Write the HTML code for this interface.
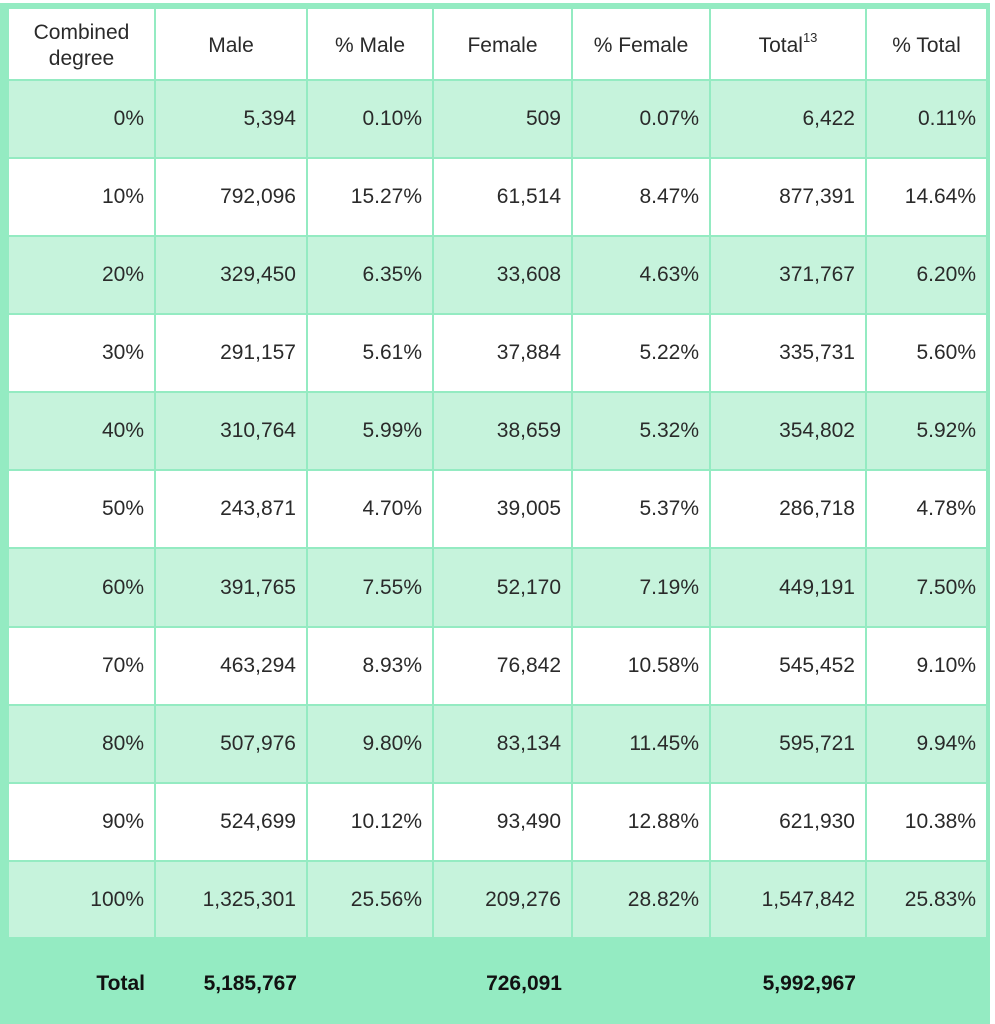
<!DOCTYPE html>
<html><head><meta charset="utf-8"><style>
body{margin:0;width:995px;height:1024px;background:#fff;position:relative;overflow:hidden;font-family:"Liberation Sans",sans-serif;color:#2a2a2a}
#frame{position:absolute;left:0;top:3px;width:990px;height:1021px;background:#94ebc2}
.c{position:absolute;box-sizing:border-box;display:flex;align-items:center;font-size:21px;padding:0 10px;justify-content:flex-end}
.h{justify-content:center;text-align:center;line-height:26px;padding-top:4px}
.t{font-weight:bold;color:#111;font-size:21px;padding-top:6px}
sup{font-size:13px;position:relative;top:-2px;vertical-align:super;line-height:0}
</style></head><body>
<div id="frame"></div>
<div id="tbl"></div>
<script>
const colEdges=[8,155,307,433,572,710,866,987];
const rowEdges=[8,80,158,236,314,392,470,548,627,705,783,861,938];
const headers=["Combined<br>degree","Male","% Male","Female","% Female","Total<sup>13</sup>","% Total"];
const headerNames=["combined-degree","male","pct-male","female","pct-female","total","pct-total"];
const rows=[
["0%","5,394","0.10%","509","0.07%","6,422","0.11%"],
["10%","792,096","15.27%","61,514","8.47%","877,391","14.64%"],
["20%","329,450","6.35%","33,608","4.63%","371,767","6.20%"],
["30%","291,157","5.61%","37,884","5.22%","335,731","5.60%"],
["40%","310,764","5.99%","38,659","5.32%","354,802","5.92%"],
["50%","243,871","4.70%","39,005","5.37%","286,718","4.78%"],
["60%","391,765","7.55%","52,170","7.19%","449,191","7.50%"],
["70%","463,294","8.93%","76,842","10.58%","545,452","9.10%"],
["80%","507,976","9.80%","83,134","11.45%","595,721","9.94%"],
["90%","524,699","10.12%","93,490","12.88%","621,930","10.38%"],
["100%","1,325,301","25.56%","209,276","28.82%","1,547,842","25.83%"]];
const totals=["Total","5,185,767","","726,091","","5,992,967",""];
const tbl=document.getElementById('tbl');
function cell(x0,x1,y0,y1,html,cls,bg,name){
  const d=document.createElement('div');
  d.className='c '+cls;
  d.style.left=(x0+1)+'px';d.style.top=(y0+1)+'px';
  d.style.width=(x1-x0-2)+'px';d.style.height=(y1-y0-2)+'px';
  d.style.background=bg;d.innerHTML='<span>'+html+'</span>';
  
  
  tbl.appendChild(d);
}
for(let j=0;j<7;j++){
  cell(colEdges[j],colEdges[j+1],rowEdges[0],rowEdges[1],headers[j],'h','#fff','header-'+headerNames[j]);
}
rows.forEach((r,i)=>{
  const bg=i%2===0?'#c6f3dc':'#fff';
  r.forEach((v,j)=>{
    cell(colEdges[j],colEdges[j+1],rowEdges[i+1],rowEdges[i+2],v,'',bg,'cell-'+r[0].replace('%','pct')+'-'+headerNames[j]);
  });
});
totals.forEach((v,j)=>{
  const d=document.createElement('div');
  d.className='c t';
  d.style.left=colEdges[j]+'px';d.style.top='938px';
  d.style.width=(colEdges[j+1]-colEdges[j])+'px';d.style.height='86px';
  d.textContent=v;
  
  
  tbl.appendChild(d);
});
</script>
</body></html>
